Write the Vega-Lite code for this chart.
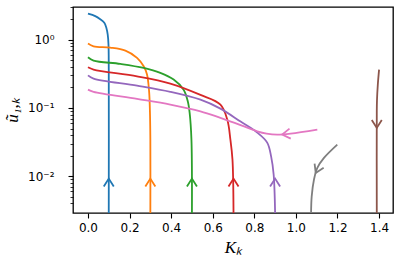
{
  "$schema": "https://vega.github.io/schema/vega-lite/v6.json",
  "autosize": "none",
  "width": 320,
  "height": 206,
  "padding": {"left": 73, "top": 7, "right": 8, "bottom": 53},
  "background": "white",
  "config": {
    "view": {"stroke": "black", "strokeWidth": 1.3},
    "axis": {"grid": false, "domain": false, "tickColor": "black", "labelColor": "black", "titleColor": "black", "labelFont": "DejaVu Sans", "labelFontSize": 12}
  },
  "datasets": {
    "curves": [
      {"s": "a", "i": 0, "x": 0, "y": 2.40},
      {"s": "a", "i": 1, "x": 0.035, "y": 2.21},
      {"s": "a", "i": 2, "x": 0.059, "y": 1.99},
      {"s": "a", "i": 3, "x": 0.0785, "y": 1.77},
      {"s": "a", "i": 4, "x": 0.088, "y": 1.50},
      {"s": "a", "i": 5, "x": 0.095, "y": 1.18},
      {"s": "a", "i": 6, "x": 0.0987, "y": 0.845},
      {"s": "a", "i": 7, "x": 0.1, "y": 0.364},
      {"s": "a", "i": 8, "x": 0.1, "y": 0.0029},

      {"s": "b", "i": 0, "x": 0, "y": 0.874},
      {"s": "b", "i": 1, "x": 0.027, "y": 0.798},
      {"s": "b", "i": 2, "x": 0.107, "y": 0.764},
      {"s": "b", "i": 3, "x": 0.18, "y": 0.690},
      {"s": "b", "i": 4, "x": 0.236, "y": 0.540},
      {"s": "b", "i": 5, "x": 0.268, "y": 0.407},
      {"s": "b", "i": 6, "x": 0.284, "y": 0.308},
      {"s": "b", "i": 7, "x": 0.294, "y": 0.175},
      {"s": "b", "i": 8, "x": 0.298, "y": 0.0885},
      {"s": "b", "i": 9, "x": 0.3, "y": 0.0344},
      {"s": "b", "i": 10, "x": 0.3, "y": 0.0029},

      {"s": "c", "i": 0, "x": 0, "y": 0.551},
      {"s": "c", "i": 1, "x": 0.027, "y": 0.493},
      {"s": "c", "i": 2, "x": 0.156, "y": 0.441},
      {"s": "c", "i": 3, "x": 0.268, "y": 0.385},
      {"s": "c", "i": 4, "x": 0.348, "y": 0.326},
      {"s": "c", "i": 5, "x": 0.412, "y": 0.260},
      {"s": "c", "i": 6, "x": 0.46, "y": 0.185},
      {"s": "c", "i": 7, "x": 0.48, "y": 0.125},
      {"s": "c", "i": 8, "x": 0.489, "y": 0.0847},
      {"s": "c", "i": 9, "x": 0.4976, "y": 0.0344},
      {"s": "c", "i": 10, "x": 0.5, "y": 0.0029},

      {"s": "d", "i": 0, "x": 0, "y": 0.393},
      {"s": "d", "i": 1, "x": 0.027, "y": 0.364},
      {"s": "d", "i": 2, "x": 0.236, "y": 0.290},
      {"s": "d", "i": 3, "x": 0.396, "y": 0.227},
      {"s": "d", "i": 4, "x": 0.541, "y": 0.155},
      {"s": "d", "i": 5, "x": 0.637, "y": 0.112},
      {"s": "d", "i": 6, "x": 0.670, "y": 0.0676},
      {"s": "d", "i": 7, "x": 0.685, "y": 0.0344},
      {"s": "d", "i": 8, "x": 0.695, "y": 0.0175},
      {"s": "d", "i": 9, "x": 0.7, "y": 0.0029},

      {"s": "e", "i": 0, "x": 0, "y": 0.300},
      {"s": "e", "i": 1, "x": 0.027, "y": 0.269},
      {"s": "e", "i": 2, "x": 0.236, "y": 0.212},
      {"s": "e", "i": 3, "x": 0.396, "y": 0.172},
      {"s": "e", "i": 4, "x": 0.541, "y": 0.132},
      {"s": "e", "i": 5, "x": 0.637, "y": 0.0977},
      {"s": "e", "i": 6, "x": 0.734, "y": 0.0631},
      {"s": "e", "i": 7, "x": 0.814, "y": 0.0436},
      {"s": "e", "i": 8, "x": 0.862, "y": 0.0311},
      {"s": "e", "i": 9, "x": 0.881, "y": 0.0194},
      {"s": "e", "i": 10, "x": 0.893, "y": 0.0106},
      {"s": "e", "i": 11, "x": 0.9, "y": 0.0029},

      {"s": "f", "i": 0, "x": 1.400, "y": 0.364},
      {"s": "f", "i": 1, "x": 1.394, "y": 0.22},
      {"s": "f", "i": 2, "x": 1.390, "y": 0.13},
      {"s": "f", "i": 3, "x": 1.389, "y": 0.09},
      {"s": "f", "i": 4, "x": 1.389, "y": 0.0029},

      {"s": "g", "i": 0, "x": 0, "y": 0.1856},
      {"s": "g", "i": 1, "x": 0.027, "y": 0.172},
      {"s": "g", "i": 2, "x": 0.236, "y": 0.1356},
      {"s": "g", "i": 3, "x": 0.396, "y": 0.112},
      {"s": "g", "i": 4, "x": 0.541, "y": 0.0893},
      {"s": "g", "i": 5, "x": 0.637, "y": 0.0715},
      {"s": "g", "i": 6, "x": 0.734, "y": 0.0561},
      {"s": "g", "i": 7, "x": 0.814, "y": 0.0455},
      {"s": "g", "i": 8, "x": 0.859, "y": 0.0421},
      {"s": "g", "i": 9, "x": 0.910, "y": 0.0407},
      {"s": "g", "i": 10, "x": 0.975, "y": 0.0421},
      {"s": "g", "i": 11, "x": 1.103, "y": 0.0482},

      {"s": "h", "i": 0, "x": 1.073, "y": 0.0029},
      {"s": "h", "i": 1, "x": 1.076, "y": 0.00509},
      {"s": "h", "i": 2, "x": 1.087, "y": 0.00895},
      {"s": "h", "i": 3, "x": 1.103, "y": 0.01328},
      {"s": "h", "i": 4, "x": 1.135, "y": 0.01858},
      {"s": "h", "i": 5, "x": 1.199, "y": 0.0291}
    ],
    "arrows": [
      {"s": "a", "x": 0.1, "y": 0.00925, "angle": 0},
      {"s": "b", "x": 0.3, "y": 0.00925, "angle": 0},
      {"s": "c", "x": 0.5, "y": 0.00925, "angle": 0},
      {"s": "d", "x": 0.7, "y": 0.00925, "angle": 0},
      {"s": "e", "x": 0.9, "y": 0.00925, "angle": 0},
      {"s": "f", "x": 1.389, "y": 0.051, "angle": 180},
      {"s": "g", "x": 0.934, "y": 0.0407, "angle": 263},
      {"s": "h", "x": 1.0954, "y": 0.0112, "angle": 205}
    ]
  },
  "layer": [
    {
      "data": {"name": "curves"},
      "mark": {"type": "line", "strokeWidth": 1.8, "interpolate": "catmull-rom", "clip": true},
      "encoding": {
        "x": {"field": "x", "type": "quantitative", "scale": {"domain": [-0.072, 1.467], "nice": false, "zero": false},
              "axis": {"values": [0, 0.2, 0.4, 0.6, 0.8, 1.0, 1.2, 1.4], "format": ".1f", "tickSize": 5, "tickWidth": 1.1, "labelPadding": 4,
                       "title": "Kₖ", "titleFont": "Liberation Serif", "titleFontStyle": "italic", "titleFontWeight": "normal", "titleFontSize": 17, "titlePadding": 6}},
        "y": {"field": "y", "type": "quantitative", "scale": {"type": "log", "domain": [0.0029, 3.0], "nice": false},
              "axis": {"values": [0.004, 0.005, 0.006, 0.007, 0.008, 0.009, 0.01, 0.02, 0.03, 0.04, 0.05, 0.06, 0.07, 0.08, 0.09, 0.1, 0.2, 0.3, 0.4, 0.5, 0.6, 0.7, 0.8, 0.9, 1, 2, 3],
                       "labelExpr": "datum.value == 1 ? '10⁰' : datum.value == 0.1 ? '10⁻¹' : datum.value == 0.01 ? '10⁻²' : ''",
                       "labelOverlap": false, "labelPadding": 14,
                       "tickSize": {"condition": {"test": "datum.value == 1 || datum.value == 0.1 || datum.value == 0.01", "value": 5}, "value": 3},
                       "tickWidth": {"condition": {"test": "datum.value == 1 || datum.value == 0.1 || datum.value == 0.01", "value": 1.1}, "value": 0.8},
                       "title": "ũ₁,ₖ", "titleFont": "Liberation Serif", "titleFontStyle": "italic", "titleFontWeight": "normal", "titleFontSize": 17, "titlePadding": 6}},
        "color": {"field": "s", "type": "nominal", "legend": null,
                  "scale": {"domain": ["a", "b", "c", "d", "e", "f", "g", "h"], "range": ["#1f77b4", "#ff7f0e", "#2ca02c", "#d62728", "#9467bd", "#8c564b", "#e377c2", "#7f7f7f"]}},
        "order": {"field": "i", "type": "quantitative"}
      }
    },
    {
      "data": {"name": "arrows"},
      "mark": {"type": "point", "shape": "M-1,1.6L0,0L1,1.6", "filled": false, "size": 100, "strokeWidth": 1.8, "opacity": 1},
      "encoding": {
        "x": {"field": "x", "type": "quantitative"},
        "y": {"field": "y", "type": "quantitative"},
        "angle": {"field": "angle", "type": "quantitative", "scale": null},
        "color": {"field": "s", "type": "nominal", "legend": null}
      }
    }
  ]
}
